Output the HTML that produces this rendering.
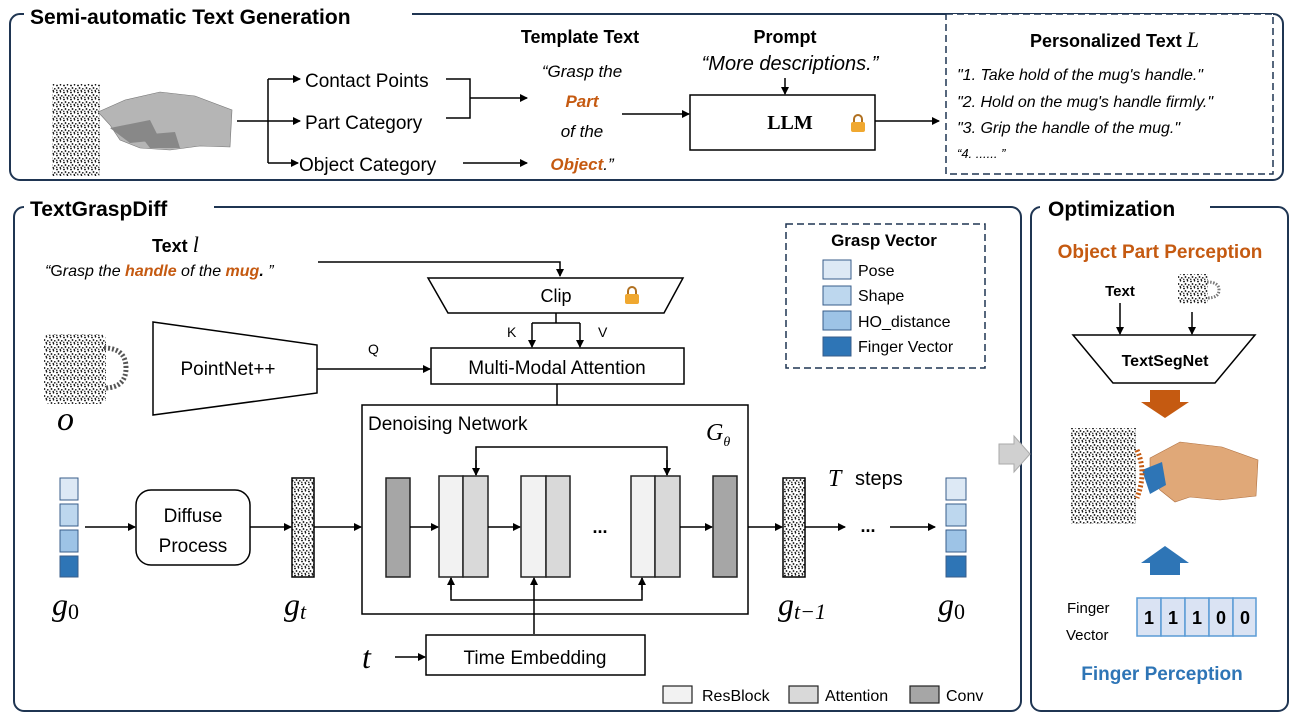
<!DOCTYPE html>
<html><head><meta charset="utf-8"><style>
body{margin:0;background:#fff}
svg{display:block;font-family:"Liberation Sans",sans-serif}
.m{font-family:"Liberation Serif",serif;font-style:italic}
</style></head><body>
<svg width="1305" height="724" viewBox="0 0 1305 724" xmlns="http://www.w3.org/2000/svg">
<defs>
<marker id="a" markerWidth="8" markerHeight="8" refX="7" refY="4" orient="auto" markerUnits="userSpaceOnUse"><path d="M0,0 L8,4 L0,8z" fill="#000"/></marker>
<pattern id="d" width="7" height="7" patternUnits="userSpaceOnUse"><rect width="7" height="7" fill="#fff"/><circle cx="1" cy="1.5" r="0.9" fill="#000"/><circle cx="4.5" cy="0.8" r="0.8" fill="#000"/><circle cx="2.5" cy="4" r="0.9" fill="#000"/><circle cx="5.8" cy="4.8" r="0.8" fill="#000"/><circle cx="0.8" cy="6.3" r="0.7" fill="#000"/><circle cx="4.2" cy="6.5" r="0.7" fill="#000"/></pattern>
</defs>

<rect x="10" y="14" width="1273" height="166" rx="10" fill="none" stroke="#1f3552" stroke-width="2"/>
<rect x="24" y="2" width="388" height="26" fill="#fff"/>
<text x="30" y="24" font-size="21" font-weight="bold">Semi-automatic Text Generation</text>
<rect x="14" y="207" width="1007" height="504" rx="10" fill="none" stroke="#1f3552" stroke-width="2"/>
<rect x="24" y="195" width="190" height="26" fill="#fff"/>
<text x="30" y="216" font-size="21" font-weight="bold">TextGraspDiff</text>
<rect x="1031" y="207" width="257" height="504" rx="10" fill="none" stroke="#1f3552" stroke-width="2"/>
<rect x="1040" y="195" width="170" height="26" fill="#fff"/>
<text x="1048" y="216" font-size="21" font-weight="bold">Optimization</text>

<rect x="52" y="84" width="48" height="92" fill="url(#d)"/>
<path d="M98,112 L125,100 L160,92 L195,96 L232,110 L230,147 L200,146 L170,150 L140,148 L120,140 L110,125z" fill="#b5b5b5" stroke="#777" stroke-width="0.6"/>
<path d="M110,128 L150,120 L160,140 L130,143z M140,135 L175,132 L180,148 L150,148z" fill="#888"/>
<line x1="237" y1="121" x2="268" y2="121" stroke="#000" stroke-width="1.5"/>
<line x1="268" y1="79" x2="268" y2="163" stroke="#000" stroke-width="1.5"/>
<g stroke="#000" stroke-width="1.5" marker-end="url(#a)">
<line x1="268" y1="79" x2="300" y2="79"/><line x1="268" y1="121" x2="300" y2="121"/><line x1="268" y1="163" x2="298" y2="163"/>
<line x1="470" y1="98" x2="527" y2="98"/><line x1="463" y1="163" x2="527" y2="163"/>
<line x1="622" y1="114" x2="689" y2="114"/><line x1="785" y1="78" x2="785" y2="94"/><line x1="875" y1="121" x2="939" y2="121"/>
</g>
<path d="M446,79 H470 V118 H446" fill="none" stroke="#000" stroke-width="1.5"/>
<text x="305" y="87" font-size="19">Contact Points</text>
<text x="305" y="129" font-size="19">Part Category</text>
<text x="299" y="171" font-size="19">Object Category</text>
<g text-anchor="middle" font-size="17" font-style="italic">
<text x="580" y="43" font-size="18" font-weight="bold" font-style="normal">Template Text</text>
<text x="582" y="77">“Grasp the</text>
<text x="582" y="107" fill="#c55a11" font-weight="bold">Part</text>
<text x="582" y="137">of the</text>
<text x="582" y="170"><tspan fill="#c55a11" font-weight="bold">Object</tspan>.”</text>
</g>
<text x="785" y="43" font-size="18" font-weight="bold" text-anchor="middle">Prompt</text>
<text x="790" y="70" font-size="20" font-style="italic" text-anchor="middle">“More descriptions.”</text>
<rect x="690" y="95" width="185" height="55" fill="#fff" stroke="#000" stroke-width="1.5"/>
<text x="790" y="129" font-size="20" font-weight="bold" text-anchor="middle" font-family="Liberation Serif,serif">LLM</text>
<g transform="translate(851,115)"><path d="M3,7 V4 a4,4 0 0 1 8,0 V7" fill="none" stroke="#b07020" stroke-width="2"/><rect x="0" y="7" width="14" height="10" rx="2" fill="#f0a830"/></g>
<rect x="946" y="14" width="327" height="160" fill="#fff" stroke="#1f3552" stroke-width="1.5" stroke-dasharray="7,4"/>
<text x="1030" y="47" font-size="18" font-weight="bold">Personalized Text <tspan class="m" font-weight="normal" font-size="22">L</tspan></text>
<g font-size="16" font-style="italic">
<text x="957" y="80">"1. Take hold of the mug's handle."</text>
<text x="957" y="107">"2. Hold on the mug's handle firmly."</text>
<text x="957" y="133">"3. Grip the handle of the mug."</text>
<text x="957" y="158" font-size="13">“4. ...... ”</text>
</g>

<text x="152" y="252" font-size="18" font-weight="bold">Text <tspan class="m" font-weight="normal" font-size="22">l</tspan></text>
<text x="45" y="276" font-size="16" font-style="italic">“<tspan font-style="normal">G</tspan>rasp the <tspan fill="#c55a11" font-weight="bold">handle</tspan> of the <tspan fill="#c55a11" font-weight="bold">mug</tspan><tspan font-weight="bold">.</tspan> ”</text>
<path d="M318,262 H560 V276" fill="none" stroke="#000" stroke-width="1.5" marker-end="url(#a)"/>
<path d="M428,278 H683 L664,313 H448z" fill="#fff" stroke="#000" stroke-width="1.5"/>
<text x="556" y="302" font-size="18" text-anchor="middle">Clip</text>
<g transform="translate(625,287)"><path d="M3,7 V4 a4,4 0 0 1 8,0 V7" fill="none" stroke="#b07020" stroke-width="2"/><rect x="0" y="7" width="14" height="10" rx="2" fill="#f0a830"/></g>
<path d="M556,313 V323 M532,323 H580" stroke="#000" stroke-width="1.5"/>
<g stroke="#000" stroke-width="1.5" marker-end="url(#a)">
<line x1="532" y1="323" x2="532" y2="347"/><line x1="580" y1="323" x2="580" y2="347"/>
<line x1="317" y1="369" x2="430" y2="369"/>
<line x1="557" y1="384" x2="557" y2="475"/>
</g>
<text x="507" y="337" font-size="14">K</text><text x="598" y="337" font-size="14">V</text>
<text x="368" y="354" font-size="14">Q</text>
<rect x="431" y="348" width="253" height="36" fill="#fff" stroke="#000" stroke-width="1.5"/>
<text x="557" y="374" font-size="19" text-anchor="middle">Multi-Modal Attention</text>
<path d="M153,322 L317,345 V393 L153,415z" fill="#fff" stroke="#000" stroke-width="1.5"/>
<text x="228" y="375" font-size="19" text-anchor="middle">PointNet++</text>
<rect x="44" y="334" width="62" height="70" rx="6" fill="url(#d)"/>
<path d="M104,348 q22,0 22,20 q0,20 -22,20" fill="none" stroke="#555" stroke-width="5" stroke-dasharray="2,2"/>
<text x="57" y="430" class="m" font-size="34">o</text>

<rect x="786" y="224" width="199" height="144" fill="#fff" stroke="#1f3552" stroke-width="1.5" stroke-dasharray="7,4"/>
<text x="884" y="246" font-size="17" font-weight="bold" text-anchor="middle">Grasp Vector</text>
<g stroke="#385d8a" stroke-width="1">
<rect x="823" y="260" width="28" height="19" fill="#dde9f5"/>
<rect x="823" y="286" width="28" height="19" fill="#bdd7ee"/>
<rect x="823" y="311" width="28" height="19" fill="#9dc3e6"/>
<rect x="823" y="337" width="28" height="19" fill="#2e75b6"/>
</g>
<g font-size="16"><text x="858" y="276">Pose</text><text x="858" y="301">Shape</text><text x="858" y="327">HO_distance</text><text x="858" y="352">Finger Vector</text></g>

<rect x="362" y="405" width="386" height="209" fill="#fff" stroke="#000" stroke-width="1.5"/>
<text x="368" y="430" font-size="19">Denoising Network</text>
<text x="706" y="440" class="m" font-size="24">G<tspan font-size="14" dy="6">θ</tspan></text>
<g stroke="#222" stroke-width="1.5">
<rect x="386" y="478" width="24" height="99" fill="#a6a6a6"/>
<rect x="439" y="476" width="24" height="101" fill="#f2f2f2"/><rect x="463" y="476" width="25" height="101" fill="#d9d9d9"/>
<rect x="521" y="476" width="25" height="101" fill="#f2f2f2"/><rect x="546" y="476" width="24" height="101" fill="#d9d9d9"/>
<rect x="631" y="476" width="24" height="101" fill="#f2f2f2"/><rect x="655" y="476" width="25" height="101" fill="#d9d9d9"/>
<rect x="713" y="476" width="24" height="101" fill="#a6a6a6"/>
</g>
<text x="600" y="533" font-size="18" font-weight="bold" text-anchor="middle">...</text>
<path d="M476,475 V447 H667 V475" fill="none" stroke="#000" stroke-width="1.5"/>
<path d="M451,578 V600 H642 V578" fill="none" stroke="#000" stroke-width="1.5"/>
<g stroke="#000" stroke-width="1.5" marker-end="url(#a)">
<line x1="476" y1="460" x2="476" y2="475"/><line x1="667" y1="460" x2="667" y2="475"/>
<line x1="451" y1="590" x2="451" y2="578"/><line x1="642" y1="590" x2="642" y2="578"/>
<line x1="534" y1="634" x2="534" y2="578"/>
<line x1="410" y1="527" x2="438" y2="527"/><line x1="488" y1="527" x2="520" y2="527"/><line x1="680" y1="527" x2="712" y2="527"/>
<line x1="395" y1="657" x2="425" y2="657"/>
<line x1="85" y1="527" x2="135" y2="527"/><line x1="250" y1="527" x2="291" y2="527"/><line x1="314" y1="527" x2="361" y2="527"/>
<line x1="748" y1="527" x2="782" y2="527"/><line x1="805" y1="527" x2="845" y2="527"/><line x1="890" y1="527" x2="935" y2="527"/>
</g>
<rect x="426" y="635" width="219" height="40" fill="#fff" stroke="#000" stroke-width="1.5"/>
<text x="535" y="664" font-size="19" text-anchor="middle">Time Embedding</text>
<text x="362" y="668" class="m" font-size="32">t</text>

<g stroke="#385d8a" stroke-width="1">
<rect x="60" y="478" width="18" height="22" fill="#dde9f5"/><rect x="60" y="504" width="18" height="22" fill="#bdd7ee"/><rect x="60" y="530" width="18" height="22" fill="#9dc3e6"/><rect x="60" y="556" width="18" height="21" fill="#2e75b6"/>
<rect x="946" y="478" width="20" height="22" fill="#dde9f5"/><rect x="946" y="504" width="20" height="22" fill="#bdd7ee"/><rect x="946" y="530" width="20" height="22" fill="#9dc3e6"/><rect x="946" y="556" width="20" height="21" fill="#2e75b6"/>
</g>
<rect x="136" y="490" width="114" height="75" rx="15" fill="#fff" stroke="#000" stroke-width="1.5"/>
<text x="193" y="522" font-size="19" text-anchor="middle">Diffuse</text>
<text x="193" y="552" font-size="19" text-anchor="middle">Process</text>
<rect x="292" y="478" width="22" height="99" fill="url(#d)" stroke="#000" stroke-width="1.5"/>
<rect x="783" y="478" width="22" height="99" fill="url(#d)" stroke="#000" stroke-width="1.5"/>
<text x="868" y="532" font-size="18" font-weight="bold" text-anchor="middle">...</text>
<text x="828" y="486" class="m" font-size="24">T</text><text x="855" y="485" font-size="20">steps</text>
<g class="m" font-size="32"><text x="52" y="615">g<tspan font-size="22" font-style="normal" dy="4">0</tspan></text>
<text x="284" y="615">g<tspan font-size="22" dy="4">t</tspan></text>
<text x="778" y="615">g<tspan font-size="22" dy="4">t−1</tspan></text>
<text x="938" y="615">g<tspan font-size="22" font-style="normal" dy="4">0</tspan></text></g>

<g stroke="#222" stroke-width="1.2"><rect x="663" y="686" width="29" height="17" fill="#f2f2f2"/><rect x="789" y="686" width="29" height="17" fill="#d9d9d9"/><rect x="910" y="686" width="29" height="17" fill="#a6a6a6"/></g>
<g font-size="16"><text x="702" y="701">ResBlock</text><text x="825" y="701">Attention</text><text x="946" y="701">Conv</text></g>

<path d="M999,444 H1014 V436 L1030,454 L1014,472 V464 H999z" fill="#d0d0d0" stroke="#aaa"/>

<text x="1160" y="258" font-size="19" font-weight="bold" fill="#c55a11" text-anchor="middle">Object Part Perception</text>
<text x="1120" y="296" font-size="15" font-weight="bold" text-anchor="middle">Text</text>
<rect x="1178" y="274" width="30" height="30" fill="url(#d)"/>
<path d="M1207,282 q12,0 12,8 q0,8 -12,8" fill="none" stroke="#777" stroke-width="3" stroke-dasharray="1.5,1.5"/>
<g stroke="#000" stroke-width="1.5" marker-end="url(#a)"><line x1="1120" y1="303" x2="1120" y2="334"/><line x1="1192" y1="312" x2="1192" y2="334"/></g>
<path d="M1073,335 H1255 L1215,383 H1113z" fill="#fff" stroke="#000" stroke-width="1.5"/>
<text x="1165" y="366" font-size="16" font-weight="bold" text-anchor="middle">TextSegNet</text>
<path d="M1150,390 H1180 V402 H1189 L1165,418 L1141,402 H1150z" fill="#c55a11"/>
<rect x="1071" y="428" width="65" height="96" fill="url(#d)"/>
<path d="M1150,458 L1180,442 L1222,447 L1258,460 L1256,496 L1220,500 L1190,497 L1175,502 L1160,490 L1150,475z" fill="#e0a878" stroke="#b07040" stroke-width="0.6"/>
<path d="M1142,470 L1162,462 L1166,485 L1150,494z" fill="#2e75b6"/>
<path d="M1137,450 q10,22 0,48" fill="none" stroke="#c55a11" stroke-width="5" stroke-dasharray="2,2"/>
<path d="M1150,575 H1180 V563 H1189 L1165,546 L1141,563 H1150z" fill="#2e75b6"/>
<text x="1067" y="613" font-size="15">Finger</text>
<text x="1066" y="640" font-size="15">Vector</text>
<g stroke="#5b9bd5" stroke-width="1.5" fill="#dae3f3">
<rect x="1137" y="598" width="24" height="38"/><rect x="1161" y="598" width="24" height="38"/><rect x="1185" y="598" width="24" height="38"/><rect x="1209" y="598" width="24" height="38"/><rect x="1233" y="598" width="23" height="38"/>
</g>
<g font-size="18" font-weight="bold" text-anchor="middle"><text x="1149" y="624">1</text><text x="1173" y="624">1</text><text x="1197" y="624">1</text><text x="1221" y="624">0</text><text x="1245" y="624">0</text></g>
<text x="1162" y="680" font-size="19" font-weight="bold" fill="#2e75b6" text-anchor="middle">Finger Perception</text>
</svg>
</body></html>
